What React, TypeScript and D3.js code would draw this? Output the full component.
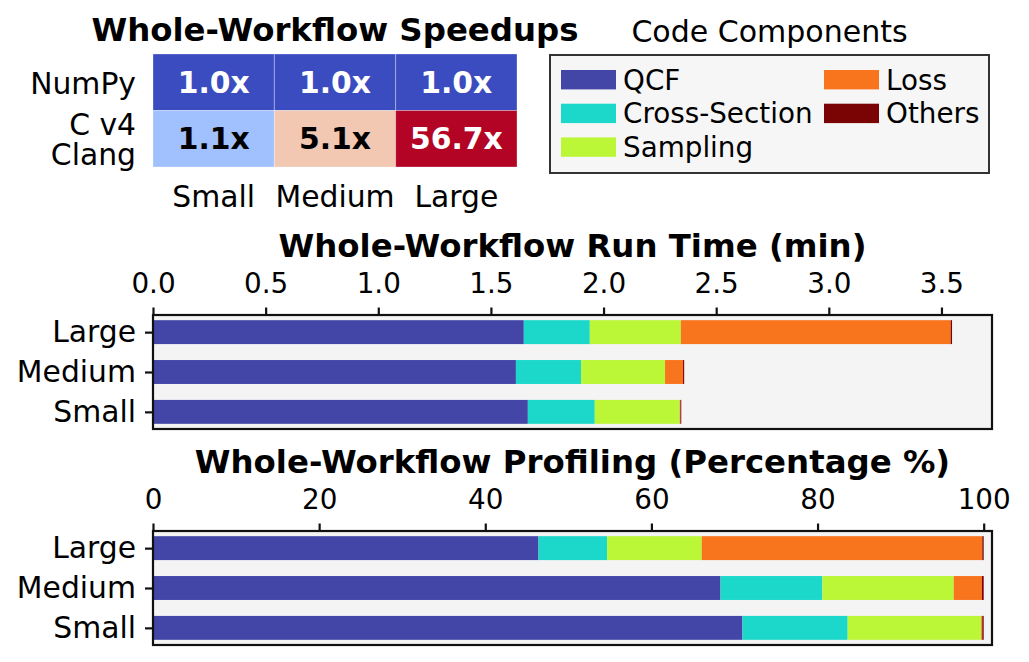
import { useEffect, useRef } from "react"
import * as d3 from "d3"

// heatmap data
const sizes = ["Small", "Medium", "Large"]
const impls = ["NumPy", "C v4\nClang"]
const numpySpeedup = [1.0, 1.0, 1.0]
const clangSpeedup = [1.1, 5.1, 56.7]

// run time per component (min), index follows sizes
const components = ["QCF", "Cross-Section", "Sampling", "Loss", "Others"]
const qcfMin = [1.664, 1.611, 1.646]
const crossMin = [0.297, 0.289, 0.293]
const samplingMin = [0.377, 0.373, 0.404]
const lossMin = [0.003, 0.080, 1.198]
const othersMin = [0.004, 0.005, 0.006]

const runTicks = [0, 0.5, 1.0, 1.5, 2.0, 2.5, 3.0, 3.5]
const pctTicks = [0, 20, 40, 60, 80, 100]

const compColors = ["#4345a7", "#1bd8cb", "#bbf637", "#f8751e", "#7a0403"]
const FONT = "DejaVu Sans"
const FS = 27.8   // tick numbers, legend entries
const LS = 29.8   // category labels, cell annotations
const TS = 32.4   // titles

export default function App() {
  const ref = useRef<SVGSVGElement>(null)
  useEffect(() => {
    if (!ref.current) return
    const svg = d3.select(ref.current)
    svg.selectAll("*").remove()
    svg.style("font-family", FONT)

    // ---------- heatmap ----------
    const hm = { left: 153, top: 54, right: 517, bottom: 167 }
    const hx = d3.scaleBand().domain(sizes).range([hm.left, hm.right])
    const hy = d3.scaleBand().domain(impls).range([hm.top, hm.bottom])
    const color = d3.scaleLinear<string>().domain([1, 1.1, 5.1, 56.7])
      .range(["#3b4cc0", "#a0c0fe", "#f2c8b3", "#b40426"])
    const cells = impls.flatMap((r, ri) => sizes.map((s, si) => ({ r, s, v: (ri === 0 ? numpySpeedup : clangSpeedup)[si] })))
    const g0 = svg.append("g")
    g0.selectAll("rect").data(cells).join("rect")
      .attr("x", d => hx(d.s)!).attr("y", d => hy(d.r)!)
      .attr("width", hx.bandwidth()).attr("height", hy.bandwidth())
      .attr("fill", d => color(d.v)).attr("stroke", "white").attr("stroke-opacity", 0.3).attr("stroke-width", 1)
    g0.selectAll("text.val").data(cells).join("text").attr("class", "val")
      .attr("x", d => hx(d.s)! + hx.bandwidth() / 2).attr("y", d => hy(d.r)! + hy.bandwidth() / 2)
      .attr("dy", "0.36em").attr("text-anchor", "middle")
      .style("font-size", LS + "px").style("font-weight", "bold")
      .attr("fill", d => (d.v < 1.05 || d.v > 20 ? "white" : "black"))
      .text(d => d.v.toFixed(1) + "x")
    g0.selectAll("text.row").data(impls).join("text").attr("class", "row")
      .attr("text-anchor", "end").style("font-size", LS + "px")
      .each(function (d) {
        const lines = d.split("\n")
        const cy = hy(d)! + hy.bandwidth() / 2
        d3.select(this).selectAll("tspan").data(lines).join("tspan")
          .attr("x", 136).attr("y", (_, i) => cy + 11.5 + (i - (lines.length - 1) / 2) * 30)
          .text(t => t)
      })
    g0.selectAll("text.col").data(sizes).join("text").attr("class", "col")
      .attr("x", d => hx(d)! + hx.bandwidth() / 2).attr("y", 207)
      .attr("text-anchor", "middle").style("font-size", LS + "px").text(d => d)
    g0.append("text").attr("x", (hm.left + hm.right) / 2).attr("y", 41)
      .attr("text-anchor", "middle").style("font-size", TS + "px").style("font-weight", "bold")
      .text("Whole-Workflow Speedups")

    // ---------- legend ----------
    const lg = svg.append("g")
    lg.append("text").attr("x", 769.5).attr("y", 42).attr("text-anchor", "middle")
      .style("font-size", "30px").text("Code Components")
    lg.append("rect").attr("x", 550).attr("y", 55).attr("width", 439).attr("height", 118)
      .attr("fill", "#f6f6f6").attr("stroke", "#333").attr("stroke-width", 2)
    const items = lg.selectAll("g.item").data(components).join("g").attr("class", "item")
      .attr("transform", (_, i) => `translate(${i < 3 ? 561 : 824},${79.7 + (i % 3) * 33.7})`)
    items.append("rect").attr("x", 0).attr("y", -9.7).attr("width", 55).attr("height", 19.4)
      .attr("fill", (_, i) => compColors[i])
    items.append("text").attr("x", 62).attr("dy", "0.36em").style("font-size", FS + "px").text(d => d)

    // ---------- stacked bar panels ----------
    const series = [qcfMin, crossMin, samplingMin, lossMin, othersMin]
    const rows = sizes.map((s, i) => {
      const o: Record<string, any> = { size: s }
      components.forEach((c, k) => (o[c] = series[k][i]))
      return o
    })
    const totals = sizes.map((_, i) => d3.sum(series, s => s[i]))
    const pctRows = rows.map((r, i) => {
      const o: Record<string, any> = { size: r.size }
      components.forEach(c => (o[c] = (r[c] / totals[i]) * 100))
      return o
    })

    const panel = (top: number, data: Record<string, any>[], xmax: number, ticks: number[], fmt: (n: number) => string, title: string) => {
      const L = 153, R = 992, H = 114
      const g = svg.append("g").attr("transform", `translate(0,${top})`)
      const x = d3.scaleLinear().domain([0, xmax]).range([L, R])
      const y = d3.scaleLinear().domain([-0.43, 2.43]).range([H, 0])
      const bh = y(0) - y(0.6)
      g.append("rect").attr("x", L).attr("y", 0).attr("width", R - L).attr("height", H).attr("fill", "#f4f4f4")
      const stacked = d3.stack<Record<string, any>>().keys(components)(data)
      g.selectAll("g.layer").data(stacked).join("g").attr("class", "layer")
        .attr("fill", (_, i) => compColors[i])
        .selectAll("rect").data(d => d.map((p, i) => ({ p, i }))).join("rect")
        .attr("x", d => x(d.p[0])).attr("width", d => Math.max(0, x(d.p[1]) - x(d.p[0])))
        .attr("y", d => y(d.i) - bh / 2).attr("height", bh)
      g.append("rect").attr("x", L).attr("y", 0).attr("width", R - L).attr("height", H)
        .attr("fill", "none").attr("stroke", "#111").attr("stroke-width", 2.2)
      g.append("g").call(d3.axisTop(x).tickValues(ticks).tickFormat(d => fmt(+d)).tickSize(7.5).tickPadding(15))
        .call(a => {
          a.select(".domain").remove()
          a.selectAll("line").attr("stroke", "#111").attr("stroke-width", 2.2)
          a.selectAll("text").attr("fill", "black").style("font-size", FS + "px").style("font-family", FONT)
        })
      g.append("g").attr("transform", `translate(${L},0)`)
        .call(d3.axisLeft(y).tickValues([0, 1, 2]).tickFormat(d => sizes[+d]).tickSize(8).tickPadding(9))
        .call(a => {
          a.select(".domain").remove()
          a.selectAll("line").attr("stroke", "#111").attr("stroke-width", 2.2)
          a.selectAll("text").attr("fill", "black").style("font-size", LS + "px").style("font-family", FONT)
        })
      g.append("text").attr("x", (L + R) / 2).attr("y", -58.4).attr("text-anchor", "middle")
        .style("font-size", TS + "px").style("font-weight", "bold").text(title)
    }

    panel(315, rows, d3.max(totals)! * 1.05, runTicks, n => n.toFixed(1), "Whole-Workflow Run Time (min)")
    panel(531, pctRows, 101, pctTicks, n => String(n), "Whole-Workflow Profiling (Percentage %)")
  }, [])
  return <svg ref={ref} width={1029} height={662} style={{ position: "absolute", left: 0, top: 0, display: "block", background: "white" }} />
}
